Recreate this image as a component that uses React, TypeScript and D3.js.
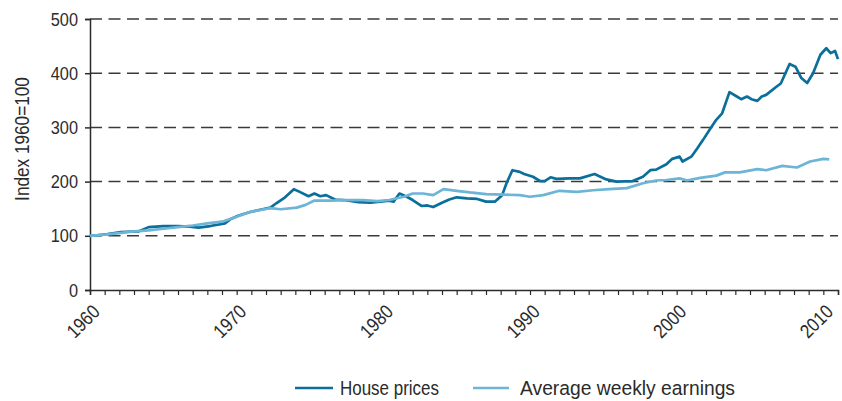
import React, { useEffect, useRef } from 'react';
import * as d3 from 'd3';

// index 1960 = 100
const houseYears = [
  1960, 1960.5, 1961.2, 1962.1, 1963.3, 1964, 1965, 1966, 1966.8, 1967.4, 1968.2, 1969.2, 1969.6,
  1970.1, 1970.8, 1971.6, 1972.3, 1972.7, 1973.3, 1973.9, 1974.3, 1974.9, 1975.3, 1975.7, 1976.1,
  1976.7, 1977.3, 1978.3, 1979.1, 1979.8, 1980.4, 1980.7, 1981.1, 1981.6, 1982, 1982.6, 1983,
  1983.4, 1984, 1984.5, 1985, 1985.7, 1986.4, 1987, 1987.6, 1988.1, 1988.4, 1988.8, 1989.3,
  1989.6, 1990.2, 1990.7, 1991, 1991.4, 1991.8, 1992.7, 1993.4, 1994.4, 1995.2, 1995.9, 1997,
  1997.7, 1998.2, 1998.6, 1999.3, 1999.7, 2000.2, 2000.4, 2001, 2001.4, 2001.8, 2002.3, 2002.7,
  2003.1, 2003.6, 2004.1, 2004.4, 2004.8, 2005.1, 2005.5, 2005.8, 2006.1, 2006.8, 2007.1, 2007.7,
  2008.1, 2008.5, 2008.9, 2009.3, 2009.8, 2010.2, 2010.5, 2010.8, 2011,
];
const houseValues = [
  100, 101, 103, 107, 108, 116, 118, 118, 117, 115, 118, 123, 131,
  137, 143, 148, 152, 160, 171, 186, 181, 173, 178, 173, 175,
  167, 166, 162, 161, 163, 165, 163, 178, 172, 166, 155, 156,
  153, 161, 167, 171, 169, 168, 163, 163, 175, 197, 221, 218,
  214, 209, 201, 201, 208, 205, 206, 206, 214, 204, 200, 201,
  209, 221, 222, 232, 242, 246, 237, 246, 261, 277, 298, 314,
  326, 365, 357, 352, 357, 352, 349, 357, 360, 375, 381, 417,
  412, 391, 382, 400, 434, 446, 437, 441, 426,
];

const earningsYears = [
  1960, 1961, 1962, 1963, 1964, 1965, 1966, 1967, 1968, 1969, 1970, 1970.9, 1972.3, 1973,
  1974.1, 1974.7, 1975.3, 1976.4, 1977.5, 1978.6, 1979.6, 1980.4, 1981.4, 1982, 1982.7, 1983.4,
  1984.1, 1985, 1985.9, 1987, 1988.2, 1989.3, 1990, 1990.9, 1992, 1993.2, 1994.3, 1995.4,
  1996.6, 1997.7, 1998.6, 1999.3, 2000.2, 2000.7, 2001.6, 2002.7, 2003.3, 2004.3, 2005.5,
  2006.1, 2007.2, 2008.2, 2009.1, 2010, 2010.4,
];
const earningsValues = [
  100, 102, 105, 108, 110, 113, 116, 119, 123, 126, 135, 144, 151, 149,
  152, 157, 165, 165, 166, 166, 164, 166, 172, 178, 178, 175,
  186, 183, 180, 177, 176, 175, 172, 175, 183, 181, 184, 186,
  188, 197, 202, 203, 206, 202, 207, 211, 217, 217, 223,
  221, 229, 226, 237, 242, 241,
];

const yTicks = [0, 100, 200, 300, 400, 500];
const xLabels = [1960, 1970, 1980, 1990, 2000, 2010];

const series = [
  { name: 'House prices', years: houseYears, values: houseValues, color: '#0b6f9c' },
  { name: 'Average weekly earnings', years: earningsYears, values: earningsValues, color: '#6cb5d6' },
];

const width = 842;
const height = 401;
const font = "'Liberation Sans', Arial, sans-serif";
const ink = '#2b2b2b';
const squeeze = 0.86; // no condensed face installed, so narrow the text by hand

const App = () => {
  const svgRef = useRef(null);

  useEffect(() => {
    const svg = d3.select(svgRef.current);
    svg.selectAll('*').remove();

    const x = d3.scaleLinear().domain([1960, 2011]).range([90, 838]);
    const y = d3.scaleLinear().domain([0, 500]).range([290, 19]);

    // dashed gridlines
    svg
      .append('g')
      .selectAll('line')
      .data(yTicks.filter((d) => d > 0))
      .enter()
      .append('line')
      .attr('x1', 90)
      .attr('x2', 838)
      .attr('y1', (d) => y(d))
      .attr('y2', (d) => y(d))
      .attr('stroke', '#3a3a3a')
      .attr('stroke-width', 1.5)
      .attr('stroke-dasharray', '12,6.5');

    // y axis
    const yAxis = svg
      .append('g')
      .attr('transform', 'translate(90,0)')
      .call(d3.axisLeft(y).tickValues(yTicks).tickSize(5).tickPadding(7));
    yAxis.select('.domain').attr('stroke', ink).attr('stroke-width', 1.5);
    yAxis.selectAll('.tick line').attr('stroke', ink).attr('stroke-width', 1.5);
    yAxis
      .selectAll('.tick text')
      .attr('fill', ink)
      .attr('x', -12 / squeeze)
      .attr('transform', `scale(${squeeze},1)`)
      .style('font-family', font)
      .style('font-size', '19px');

    // x axis, a tick per year
    const xAxis = svg
      .append('g')
      .attr('transform', 'translate(0,290)')
      .call(d3.axisBottom(x).tickValues(d3.range(1960, 2012)).tickSize(5).tickFormat(() => ''));
    xAxis.select('.domain').attr('stroke', ink).attr('stroke-width', 1.5);
    xAxis.selectAll('.tick line').attr('stroke', ink).attr('stroke-width', 1.2);

    svg
      .append('g')
      .selectAll('text')
      .data(xLabels)
      .enter()
      .append('text')
      .attr('transform', (d) => `translate(${x(d) + 11},${313}) rotate(-45) scale(${squeeze},1)`)
      .attr('text-anchor', 'end')
      .attr('fill', ink)
      .style('font-family', font)
      .style('font-size', '19.5px')
      .text((d) => d);

    svg
      .append('text')
      .attr('transform', `translate(29,139) rotate(-90) scale(${squeeze},1)`)
      .attr('text-anchor', 'middle')
      .attr('fill', ink)
      .style('font-family', font)
      .style('font-size', '20px')
      .text('Index 1960=100');

    const line = d3
      .line()
      .x((d) => x(d[0]))
      .y((d) => y(d[1]));

    svg
      .append('g')
      .selectAll('path')
      .data(series)
      .enter()
      .append('path')
      .attr('d', (s) => line(s.years.map((yr, i) => [yr, s.values[i]])))
      .attr('fill', 'none')
      .attr('stroke', (s) => s.color)
      .attr('stroke-width', 2.7)
      .attr('stroke-linejoin', 'round');

    // legend
    const legendX = [295, 473];
    const legendTextW = [99, 215];
    const legend = svg
      .append('g')
      .selectAll('g')
      .data(series)
      .enter()
      .append('g')
      .attr('transform', (s, i) => `translate(${legendX[i]},388)`);
    legend
      .append('line')
      .attr('x1', 0)
      .attr('x2', (s, i) => (i === 0 ? 38 : 36))
      .attr('stroke', (s) => s.color)
      .attr('stroke-width', 2.7);
    legend
      .append('text')
      .attr('x', (s, i) => (i === 0 ? 45 : 47))
      .attr('y', 7)
      .attr('fill', ink)
      .attr('textLength', (s, i) => legendTextW[i])
      .attr('lengthAdjust', 'spacingAndGlyphs')
      .style('font-family', font)
      .style('font-size', '20.5px')
      .text((s) => s.name);
  }, []);

  return (
    <svg
      ref={svgRef}
      width={width}
      height={height}
      style={{ position: 'absolute', left: 0, top: 0, background: '#fff' }}
    />
  );
};

export default App;
